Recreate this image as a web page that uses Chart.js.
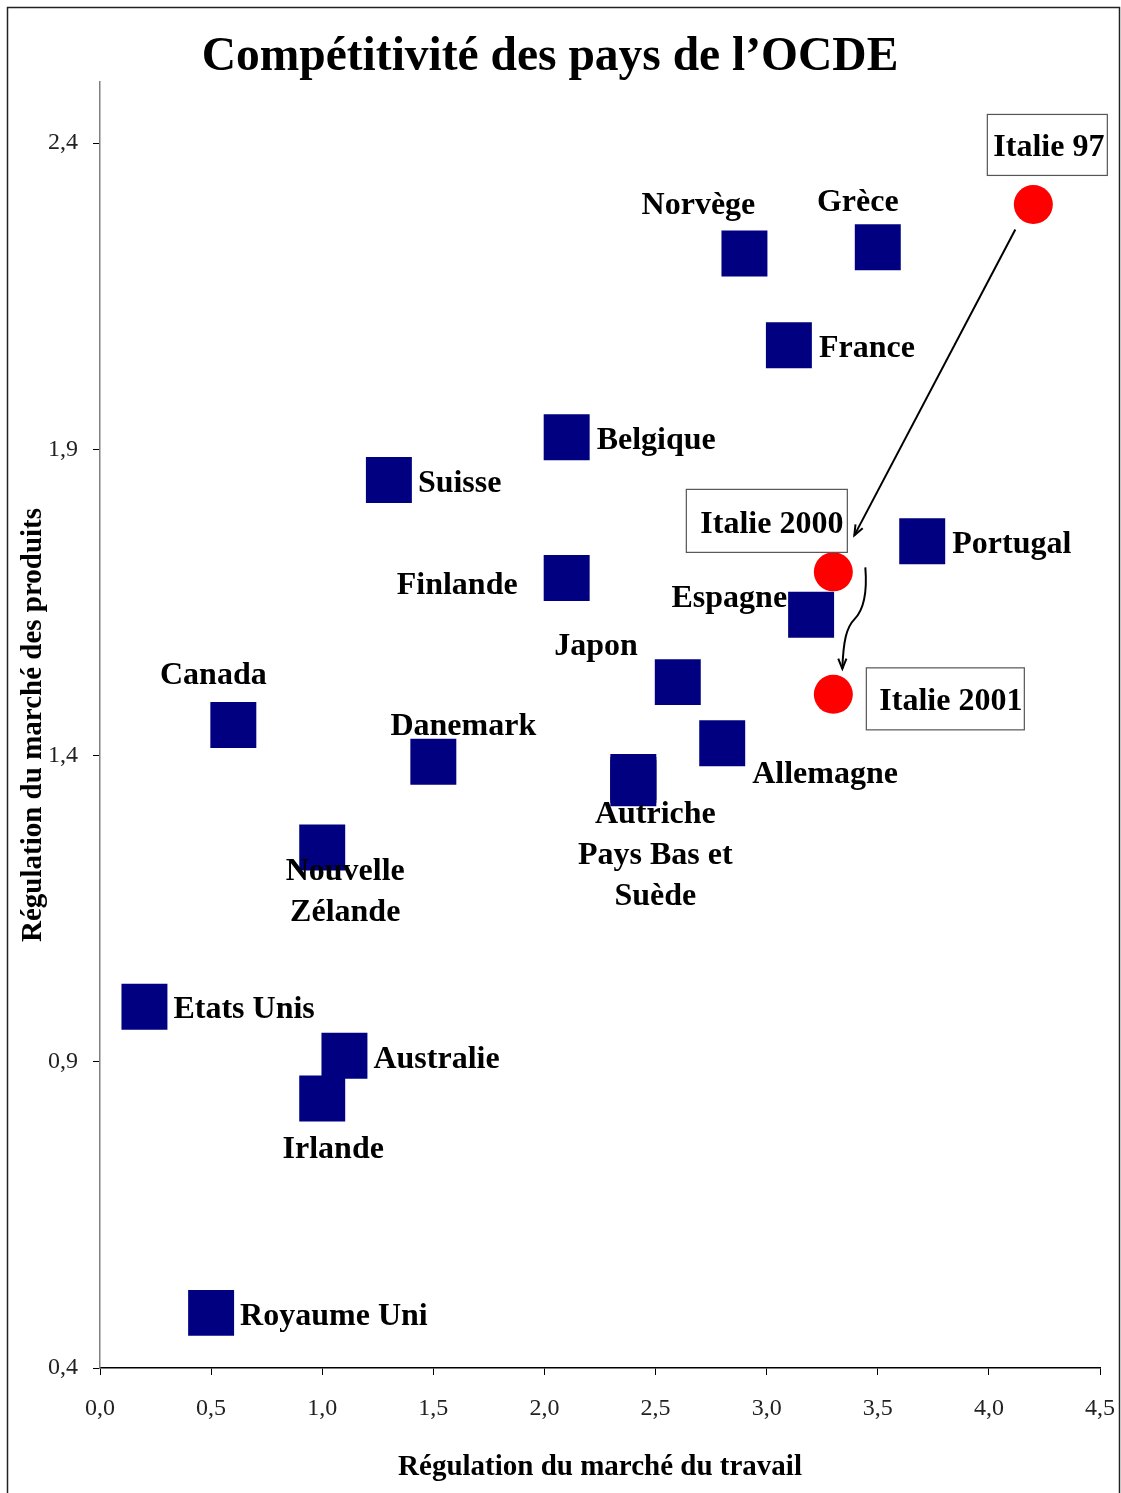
<!DOCTYPE html>
<html>
<head>
<meta charset="utf-8">
<script src="https://cdn.jsdelivr.net/npm/chart.js@4.4.0/dist/chart.umd.min.js"></script>
<style>
  html, body { margin: 0; padding: 0; background: #fff; }
</style>
</head>
<body>
<canvas id="ocdeChart" width="1121" height="1493"></canvas>
<script>
// OCDE competitiveness scatter
const countries = ['Norvège', 'Grèce', 'France', 'Belgique', 'Suisse', 'Finlande', 'Portugal', 'Espagne',
  'Japon', 'Canada', 'Danemark', 'Allemagne', 'Autriche', 'Pays Bas', 'Suède', 'Nouvelle Zélande',
  'Etats Unis', 'Australie', 'Irlande', 'Royaume Uni'];
const countryX = [2.9, 3.5, 3.1, 2.1, 1.3, 2.1, 3.7, 3.2, 2.6, 0.6, 1.5, 2.8, 2.4, 2.4, 2.4, 1.0, 0.2, 1.1, 1.0, 0.5];
const countryY = [2.22, 2.23, 2.07, 1.92, 1.85, 1.69, 1.75, 1.63, 1.52, 1.45, 1.39, 1.42, 1.365, 1.36, 1.355, 1.25, 0.99, 0.91, 0.84, 0.49];
// text shown next to each square ('' = shares the label of a neighbour)
const countryLabels = ['Norvège', 'Grèce', 'France', 'Belgique', 'Suisse', 'Finlande', 'Portugal', 'Espagne',
  'Japon', 'Canada', 'Danemark', 'Allemagne', 'Autriche\nPays Bas et\nSuède', '', '', 'Nouvelle\nZélande',
  'Etats Unis', 'Australie', 'Irlande', 'Royaume Uni'];

const italyLabels = ['Italie 97', 'Italie 2000', 'Italie 2001'];
const italyX = [4.2, 3.3, 3.3];
const italyY = [2.30, 1.70, 1.50];

const xTicks = [0, 0.5, 1, 1.5, 2, 2.5, 3, 3.5, 4, 4.5];
const yTicks = [0.4, 0.9, 1.4, 1.9, 2.4];

const FONT = '"Liberation Serif", "DejaVu Serif", serif';

// label placement relative to the marker (pixels), first-line baseline
const labelPlace = [
  {align: 'center', dx: -46, dy: -39},
  {align: 'center', dx: -20, dy: -36},
  {align: 'left', dx: 30, dy: 12},
  {align: 'left', dx: 30, dy: 12},
  {align: 'left', dx: 29, dy: 12},
  {align: 'right', dx: -49, dy: 16},
  {align: 'left', dx: 30, dy: 12},
  {align: 'right', dx: -24, dy: -8},
  {align: 'right', dx: -40, dy: -27},
  {align: 'center', dx: -20, dy: -41},
  {align: 'center', dx: 30, dy: -27},
  {align: 'left', dx: 30, dy: 40},
  {align: 'center', dx: 22, dy: 46},
  null, null,
  {align: 'center', dx: 23, dy: 33},
  {align: 'left', dx: 29, dy: 11},
  {align: 'left', dx: 29, dy: 12},
  {align: 'center', dx: 11, dy: 59},
  {align: 'left', dx: 29, dy: 12}
];
// boxes for the Italy labels: [x, y, w, h] relative to marker, text left / baseline
const italyBox = [
  {box: [-46, -90, 120, 61], tx: -40, ty: -48},
  {box: [-147, -82.5, 161, 63], tx: -133, ty: -38.5},
  {box: [33, -26.5, 158, 62], tx: 46, ty: 15.5}
];

const fmt = v => Number(v).toFixed(1).replace('.', ',');

function arrowHead(ctx, x, y, angle) {
  const len = 11, spread = 0.38;
  ctx.beginPath();
  ctx.moveTo(x - len * Math.cos(angle - spread), y - len * Math.sin(angle - spread));
  ctx.lineTo(x, y);
  ctx.lineTo(x - len * Math.cos(angle + spread), y - len * Math.sin(angle + spread));
  ctx.stroke();
}

const annotate = {
  id: 'annotate',
  afterDatasetsDraw(chart) {
    const ctx = chart.ctx;
    const cMeta = chart.getDatasetMeta(0);
    const iMeta = chart.getDatasetMeta(1);
    ctx.save();
    ctx.font = 'bold 32px ' + FONT;
    ctx.fillStyle = '#000';
    ctx.textBaseline = 'alphabetic';
    countryLabels.forEach((txt, i) => {
      if (!txt) return;
      const pt = cMeta.data[i];
      const p = labelPlace[i];
      ctx.textAlign = p.align;
      txt.split('\n').forEach((line, k) => {
        ctx.fillText(line, pt.x + p.dx, pt.y + p.dy + k * 41);
      });
    });

    // arrows showing Italy's path
    const p97 = iMeta.data[0], p00 = iMeta.data[1], p01 = iMeta.data[2];
    ctx.strokeStyle = '#000';
    ctx.lineWidth = 2;
    const sx = p97.x - 18, sy = p97.y + 25;
    const ex = p00.x + 21, ey = p00.y - 36.5;
    ctx.beginPath();
    ctx.moveTo(sx, sy);
    ctx.lineTo(ex, ey);
    ctx.stroke();
    arrowHead(ctx, ex, ey, Math.atan2(ey - sy, ex - sx));

    const cx0 = p00.x + 32, cy0 = p00.y - 4.5;
    const cx1 = p01.x + 9, cy1 = p01.y - 25.5;
    const mx = (cx0 + cx1) / 2 + 0.5, my = cy0 + 52;
    ctx.beginPath();
    ctx.moveTo(cx0, cy0);
    ctx.bezierCurveTo(cx0 + 2, cy0 + 25, cx0 - 1, cy0 + 42, mx, my);
    ctx.bezierCurveTo(cx1 + 4, my + 8, cx1 + 1, my + 22, cx1, cy1);
    ctx.stroke();
    arrowHead(ctx, cx1, cy1, Math.PI / 2);

    // boxed Italy labels
    ctx.textAlign = 'left';
    italyLabels.forEach((txt, i) => {
      const pt = iMeta.data[i];
      const b = italyBox[i];
      ctx.fillStyle = '#fff';
      ctx.fillRect(pt.x + b.box[0], pt.y + b.box[1], b.box[2], b.box[3]);
      ctx.strokeStyle = '#555';
      ctx.lineWidth = 1.2;
      ctx.strokeRect(pt.x + b.box[0], pt.y + b.box[1], b.box[2], b.box[3]);
      ctx.fillStyle = '#000';
      ctx.fillText(txt, pt.x + b.tx, pt.y + b.ty);
    });
    ctx.restore();
  },
  afterDraw(chart) {
    const ctx = chart.ctx;
    ctx.save();
    ctx.strokeStyle = '#222';
    ctx.lineWidth = 1.5;
    ctx.strokeRect(7.5, 7.5, 1112, 1600);
    ctx.restore();
  }
};

const ctxScatter = document.getElementById('ocdeChart').getContext('2d');
const ocdeChart = new Chart(ctxScatter, {
  type: 'scatter',
  data: {
    datasets: [{
      label: 'Pays',
      data: countries.map((c, i) => ({x: countryX[i], y: countryY[i]})),
      pointStyle: 'rect',
      pointRadius: 32.5,
      pointHoverRadius: 32.5,
      backgroundColor: '#000080',
      borderWidth: 0
    }, {
      label: 'Italie',
      data: italyLabels.map((c, i) => ({x: italyX[i], y: italyY[i]})),
      pointStyle: 'circle',
      pointRadius: 19.5,
      pointHoverRadius: 19.5,
      backgroundColor: '#ff0000',
      borderWidth: 0
    }]
  },
  options: {
    responsive: false,
    animation: false,
    devicePixelRatio: 1,
    layout: { autoPadding: false, padding: { left: 0, right: 21, top: 0, bottom: 0 } },
    plugins: {
      legend: { display: false },
      tooltip: { enabled: false },
      title: {
        display: true,
        text: 'Compétitivité des pays de l’OCDE',
        color: '#000',
        font: { family: FONT, size: 47.5, weight: 'bold', lineHeight: 0.9 },
        padding: { top: 36, bottom: 3.2 }
      }
    },
    scales: {
      x: {
        type: 'linear',
        min: 0,
        max: 4.5,
        afterBuildTicks: s => { s.ticks = xTicks.map(v => ({value: v})); },
        afterFit: s => { s.height = 125; s.paddingLeft = 0; s.paddingRight = 0; },
        ticks: {
          // empty first line pushes the label below the tick marks
          callback: v => ['', fmt(v)],
          font: { family: FONT, size: 24, lineHeight: 0.95 },
          color: '#222',
          padding: 0,
          maxRotation: 0,
          autoSkip: false
        },
        grid: { drawOnChartArea: false, drawTicks: true, tickLength: 7, tickColor: '#000' },
        border: { display: true, color: '#000', width: 1.5 },
        title: {
          display: true,
          text: 'Régulation du marché du travail',
          color: '#000',
          font: { family: FONT, size: 29, weight: 'bold' },
          padding: { top: 0, bottom: 8 }
        }
      },
      y: {
        type: 'linear',
        min: 0.4,
        max: 2.5,
        afterBuildTicks: s => { s.ticks = yTicks.map(v => ({value: v})); },
        afterFit: s => { s.width = 100; },
        ticks: {
          callback: v => fmt(v),
          font: { family: FONT, size: 24 },
          color: '#222',
          padding: 15,
          autoSkip: false
        },
        grid: { drawOnChartArea: false, drawTicks: true, tickLength: 7, tickColor: '#000' },
        border: { display: true, color: '#808080', width: 1.5 },
        title: {
          display: true,
          text: 'Régulation du marché des produits',
          color: '#000',
          font: { family: FONT, size: 29, weight: 'bold' },
          padding: { top: 16, bottom: 0 }
        }
      }
    }
  },
  plugins: [annotate]
});
</script>
</body>
</html>
